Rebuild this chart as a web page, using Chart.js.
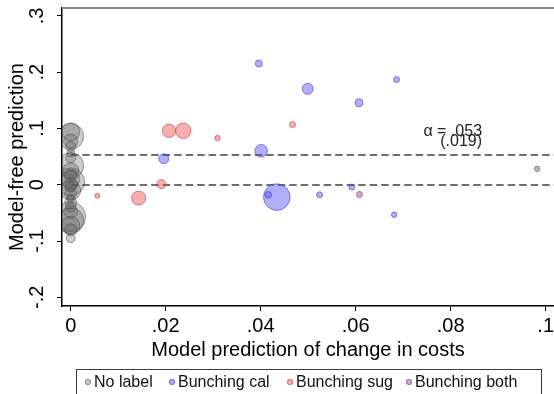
<!DOCTYPE html>
<html>
<head>
<meta charset="utf-8">
<script src="https://cdn.jsdelivr.net/npm/chart.js@4.4.1/dist/chart.umd.min.js"></script>
<style>
  html, body { margin: 0; padding: 0; background: #fff; overflow: hidden; }
  #wrap { position: relative; width: 554px; height: 394px; }
  #legend {
    position: absolute; left: 76px; top: 369px; width: 466px; height: 32px;
    border: 1.5px solid #3c3c3c; box-sizing: border-box;
    font: 16px "Liberation Sans", Arial, sans-serif; color: #111;
  }
  .item { position: absolute; top: 2px; white-space: nowrap; line-height: 19px; }
  .dot { position: absolute; top: 9px; width: 4px; height: 4px; border-radius: 50%; }
</style>
</head>
<body>
<div id="wrap">
  <canvas id="c" width="554" height="394"></canvas>
  <div id="legend"></div>
</div>
<script>
// Axis ticks
const xTicks = [0, 0.02, 0.04, 0.06, 0.08, 0.1];
const xTickLabels = ['0', '.02', '.04', '.06', '.08', '.1'];
const yTicks = [-0.2, -0.1, 0, 0.1, 0.2, 0.3];
const yTickLabels = ['-.2', '-.1', '0', '.1', '.2', '.3'];

// Groups
const groupNames = ['No label', 'Bunching cal', 'Bunching sug', 'Bunching both'];

// No label: model prediction is zero for every product
const noLabelY = [0.094, 0.086, 0.078, 0.068, 0.057, 0.048, 0.034, 0.025, 0.016, 0.010,
                  0.005, 0.000, -0.004, -0.010, -0.016, -0.024, -0.032, -0.040, -0.048,
                  -0.057, -0.064, -0.072, -0.080, -0.095];
const noLabelX = [0, 0, 0, 0, 0, 0, 0, 0, 0, 0, 0, 0, 0, 0, 0, 0, 0, 0, 0, 0, 0, 0, 0, 0];
const noLabelW = [9, 13, 7, 5, 4, 5, 13, 8, 6, 9, 14, 7, 5, 10, 6, 4, 6, 5, 7, 15, 13, 9, 6, 4.5];

// Bunching at the calorie threshold
const calX = [0.0396, 0.0499, 0.0686, 0.0607, 0.0401, 0.0196, 0.0434, 0.0416, 0.0524, 0.0592, 0.0681];
const calY = [0.2155, 0.1705, 0.187, 0.1457, 0.0604, 0.0462, -0.0219, -0.0178, -0.0178, -0.0041, -0.0533];
const calW = [3.5, 5.5, 3, 4, 6.3, 5, 13.3, 3.3, 3, 3, 2.7];

// Bunching at the sugar threshold
const sugX = [0.0207, 0.0237, 0.0309, 0.0467, 0.0191, 0.0143, 0.0056];
const sugY = [0.0959, 0.0959, 0.083, 0.107, 0.0012, -0.0237, -0.0195];
const sugW = [6.7, 7.7, 2.7, 3, 4.5, 7, 2.5];

// Bunching at both thresholds
const bothX = [0.0608, 0.0982];
const bothY = [-0.0172, 0.0284];
const bothW = [3, 2.7];

// Estimated slope and its standard error
const alphaEst = 0.053;
const alphaSE = 0.019;

const fills = ['rgba(90,90,90,0.31)', 'rgba(80,80,240,0.45)', 'rgba(235,80,80,0.45)', 'rgba(170,100,165,0.55)'];
const edges = ['rgba(55,55,55,0.45)', 'rgba(60,60,200,0.6)', 'rgba(190,60,60,0.6)', 'rgba(140,80,130,0.7)'];

function points(xs, ys, ws) {
  return xs.map((x, i) => ({ x: x, y: ys[i], r: ws[i] }));
}

const groups = [
  points(noLabelX, noLabelY, noLabelW),
  points(calX, calY, calW),
  points(sugX, sugY, sugW),
  points(bothX, bothY, bothW)
];

const FONT = '"Liberation Sans", Arial, sans-serif';

// Dashed reference lines at zero and at the estimate
const refLines = {
  id: 'refLines',
  beforeDatasetsDraw(chart) {
    const { ctx, chartArea, scales } = chart;
    const x0 = scales.x.getPixelForValue(0);
    ctx.save();
    ctx.strokeStyle = '#6e6e6e';
    ctx.lineWidth = 2;
    ctx.setLineDash([7.5, 4]);
    [0, alphaEst].forEach(v => {
      const y = Math.round(scales.y.getPixelForValue(v));
      ctx.beginPath();
      ctx.moveTo(x0, y);
      ctx.lineTo(chartArea.right, y);
      ctx.stroke();
    });
    ctx.restore();
  },
  afterDatasetsDraw(chart) {
    const { ctx, chartArea, scales } = chart;
    ctx.save();
    // frame line along the top of the plot region
    ctx.strokeStyle = '#8a8a8a';
    ctx.lineWidth = 2;
    ctx.beginPath();
    ctx.moveTo(chartArea.left, chartArea.top);
    ctx.lineTo(chartArea.right, chartArea.top);
    ctx.stroke();
    // estimate annotation
    ctx.fillStyle = '#222';
    ctx.font = '16px ' + FONT;
    ctx.textAlign = 'right';
    ctx.textBaseline = 'middle';
    const xr = scales.x.getPixelForValue(0.0866);
    ctx.fillText('α = ' + String(alphaEst).replace(/^0/, ''), xr, scales.y.getPixelForValue(0.0947));
    ctx.fillText('(' + String(alphaSE).replace(/^0/, '') + ')', xr, scales.y.getPixelForValue(0.0769));
    ctx.restore();
  }
};

new Chart(document.getElementById('c'), {
  type: 'bubble',
  data: {
    datasets: groups.map((pts, i) => ({
      label: groupNames[i],
      data: pts,
      backgroundColor: fills[i],
      borderColor: edges[i],
      borderWidth: 1,
      hoverRadius: 0
    }))
  },
  options: {
    responsive: false,
    animation: false,
    devicePixelRatio: 1,
    layout: { autoPadding: false, padding: { top: 8, right: 0, left: 0, bottom: 0 } },
    plugins: { legend: { display: false }, tooltip: { enabled: false } },
    scales: {
      x: {
        type: 'linear',
        min: -0.00183,
        max: 0.10175,
        afterBuildTicks: s => { s.ticks = xTicks.map(v => ({ value: v })); },
        afterFit: s => { s.height = 88; s.paddingLeft = 0; s.paddingRight = 0; },
        ticks: {
          autoSkip: false,
          maxRotation: 0,
          padding: 3,
          color: '#000',
          font: { family: FONT, size: 20 },
          callback: (v) => xTickLabels[xTicks.findIndex(t => Math.abs(t - v) < 1e-9)]
        },
        grid: { display: true, drawOnChartArea: false, drawTicks: true, tickLength: 5, color: '#000', tickWidth: 1 },
        border: { display: true, color: '#000', width: 1.5 },
        title: {
          display: true,
          text: 'Model prediction of change in costs',
          color: '#000',
          font: { family: FONT, size: 20 },
          padding: { top: 0, bottom: 32 }
        }
      },
      y: {
        type: 'linear',
        min: -0.2155,
        max: 0.3142,
        afterBuildTicks: s => { s.ticks = yTicks.map(v => ({ value: v })); },
        afterFit: s => { s.width = 62; s.paddingTop = 0; s.paddingBottom = 0; },
        ticks: {
          autoSkip: false,
          minRotation: 90,
          maxRotation: 90,
          crossAlign: 'center',
          padding: 8,
          color: '#000',
          font: { family: FONT, size: 20 },
          callback: (v) => yTickLabels[yTicks.findIndex(t => Math.abs(t - v) < 1e-9)]
        },
        grid: { display: true, drawOnChartArea: false, drawTicks: true, tickLength: 5, color: '#000', tickWidth: 1 },
        border: { display: true, color: '#000', width: 1.5 },
        title: {
          display: true,
          text: 'Model-free prediction',
          color: '#000',
          font: { family: FONT, size: 20 },
          padding: { top: 5, bottom: 0 }
        }
      }
    }
  },
  plugins: [refLines]
});

// Legend row below the axis title
const legendSlots = [
  { dot: 8, text: 17 },
  { dot: 92, text: 101 },
  { dot: 210, text: 219 },
  { dot: 329, text: 338 }
];
const legendEl = document.getElementById('legend');
groupNames.forEach((name, i) => {
  const d = document.createElement('span');
  d.className = 'dot';
  d.style.left = legendSlots[i].dot + 'px';
  d.style.background = fills[i];
  d.style.border = '1px solid ' + edges[i];
  legendEl.appendChild(d);
  const t = document.createElement('span');
  t.className = 'item';
  t.style.left = legendSlots[i].text + 'px';
  t.textContent = name;
  legendEl.appendChild(t);
});
</script>
</body>
</html>
